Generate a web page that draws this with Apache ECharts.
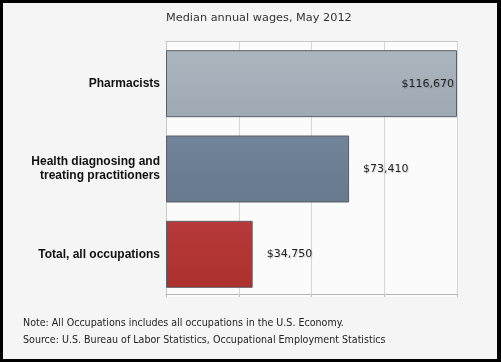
<!DOCTYPE html>
<html>
<head>
<meta charset="utf-8">
<script src="https://cdn.jsdelivr.net/npm/echarts@6/dist/echarts.min.js"></script>
<style>
html,body{margin:0;padding:0;background:#000;}
#chart{position:absolute;left:3px;top:3px;width:494px;height:356px;background:#f5f5f5;}
</style>
</head>
<body>
<div id="chart"></div>
<script>
var categories = ['Pharmacists', 'Health diagnosing and\ntreating practitioners', 'Total, all occupations'];
var wages = [116670, 73410, 34750];
var valueLabels = ['$116,670', '$73,410', '$34,750'];
var titleText = 'Median annual wages, May 2012';
var noteText = 'Note: All Occupations includes all occupations in the U.S. Economy.';
var sourceText = 'Source: U.S. Bureau of Labor Statistics, Occupational Employment Statistics';
var axisMax = 116670;

var barColors = [
  ['#abb5be', '#9ea9b3'],
  ['#72849a', '#67798d'],
  ['#b7393a', '#ac312d']
];

var chart = echarts.init(document.getElementById('chart'), null, {renderer: 'canvas'});
var data = wages.map(function (v, i) {
  var inside = i === 0;
  return {
    value: v,
    itemStyle: {
      color: new echarts.graphic.LinearGradient(0, 0, 0, 1, [
        {offset: 0, color: barColors[i][0]},
        {offset: 1, color: barColors[i][1]}
      ]),
      borderColor: '#5a5f66',
      borderWidth: 1
    },
    label: {
      show: true,
      position: inside ? 'insideRight' : 'right',
      distance: inside ? 3 : 14,
      formatter: valueLabels[i]
    }
  };
});

var footFont = '10.6px "DejaVu Sans Condensed", "DejaVu Sans"';

chart.setOption({
  animation: false,
  backgroundColor: '#f5f5f5',
  title: {
    text: titleText,
    left: 163,
    top: 10,
    padding: 0,
    textStyle: {fontFamily: 'DejaVu Sans', fontSize: 11.3, fontWeight: 'normal', color: '#333'}
  },
  grid: {
    left: 163, right: 40, top: 38, bottom: 62,
    show: true, backgroundColor: '#fbfbfb', borderWidth: 0
  },
  xAxis: [{
    type: 'value', min: 0, max: axisMax, interval: axisMax / 4,
    position: 'bottom', offset: -3,
    axisLabel: {show: false},
    axisLine: {show: true, lineStyle: {color: '#b5b5b5'}},
    axisTick: {show: true, length: 3, lineStyle: {color: '#bdbdbd'}},
    splitLine: {show: true, lineStyle: {color: '#d6d6d6'}}
  }, {
    type: 'value', min: 0, max: axisMax, interval: axisMax / 4,
    position: 'top',
    axisLabel: {show: false},
    axisLine: {show: true, lineStyle: {color: '#c8c8c8'}},
    axisTick: {show: false},
    splitLine: {show: false}
  }],
  yAxis: {
    type: 'category', data: categories, inverse: true,
    axisLine: {show: true, lineStyle: {color: '#c8c8c8'}},
    axisTick: {show: false},
    axisLabel: {
      fontFamily: 'Liberation Sans', fontWeight: 'bold', fontSize: 12,
      color: '#111', lineHeight: 14, margin: 6
    }
  },
  series: [{
    type: 'bar',
    xAxisIndex: 0,
    data: data,
    barCategoryGap: '21.5%',
    label: {
      fontFamily: 'DejaVu Sans', fontSize: 11, color: '#222',
      textShadowColor: 'rgba(0,0,0,0.15)', textShadowBlur: 1, textShadowOffsetX: 1, textShadowOffsetY: 1
    }
  }],
  graphic: [
    {type: 'text', left: 20, top: 315, style: {text: noteText, font: footFont, fill: '#222'}},
    {type: 'text', left: 20, top: 332, style: {text: sourceText, font: footFont, fill: '#222'}}
  ]
});
</script>
</body>
</html>
